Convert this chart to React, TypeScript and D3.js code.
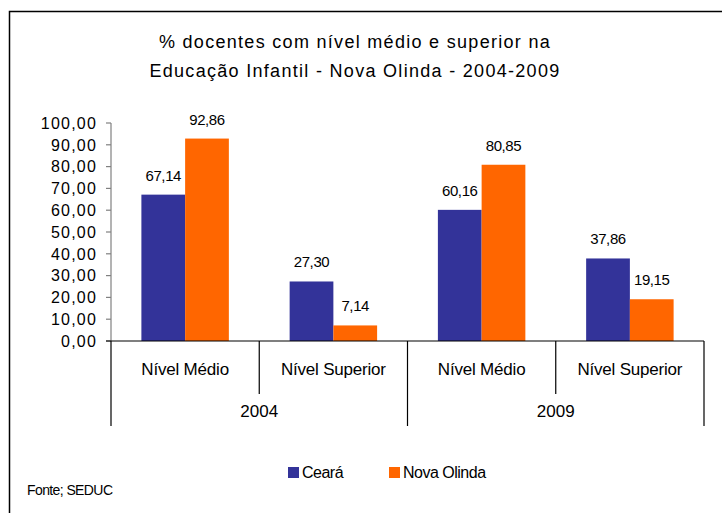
import React from "react";
import * as d3 from "d3";

const years = ["2004", "2009"];
const levels = ["Nível Médio", "Nível Superior"];
const series = ["Ceará", "Nova Olinda"];
const colors = ["#333399", "#FF6600"];
// order: 2004 Médio, 2004 Superior, 2009 Médio, 2009 Superior
const ceara = [67.14, 27.3, 60.16, 37.86];
const novaOlinda = [92.86, 7.14, 80.85, 19.15];
const yTicks = [0, 10, 20, 30, 40, 50, 60, 70, 80, 90, 100];
const titleLines = [
  "% docentes com nível médio e superior na",
  "Educação Infantil - Nova Olinda - 2004-2009",
];

const W = 722;
const H = 513;
const left = 111;
const right = 704;
const y0 = 341;
const y100 = 123;

const fmt = (v: number) => v.toFixed(2).replace(".", ",");

export default function App() {
  const cats = years.flatMap((yr) => levels.map((l) => `${yr}|${l}`));
  const x = d3.scaleBand<string>().domain(cats).range([left, right]).paddingInner(0).paddingOuter(0);
  const y = d3.scaleLinear().domain([0, 100]).range([y0, y100]);
  const bw = x.bandwidth();
  const inner = d3
    .scaleBand<string>()
    .domain(series)
    .range([bw * 0.205, bw * 0.795]);
  const yearScale = d3.scaleBand<string>().domain(years).range([left, right]);
  const font = "'Liberation Sans', Arial, sans-serif";
  const vals = [ceara, novaOlinda];

  return (
    <div style={{ position: "absolute", left: 0, top: 0 }}>
      <svg width={W} height={H} style={{ display: "block", background: "#fff" }} fontFamily={font}>
        <rect x={0} y={0} width={W} height={H} fill="#fff" />
        {/* frame */}
        <path d={`M9.5,${H} V11.5 H${W + 5}`} fill="none" stroke="#000" strokeWidth={1.5} />
        {/* title */}
        {titleLines.map((t, i) => (
          <text key={i} x={355} y={48 + i * 29} textAnchor="middle" fontSize={18} letterSpacing={1.3} fill="#000">
            {t}
          </text>
        ))}
        {/* bars */}
        {cats.map((c, ci) =>
          series.map((s, si) => {
            const v = vals[si][ci];
            const bx = (x(c) as number) + (inner(s) as number);
            return (
              <g key={c + s}>
                <rect x={bx} y={y(v)} width={inner.bandwidth()} height={y0 - y(v)} fill={colors[si]} />
                <text x={bx + inner.bandwidth() / 2} y={y(v) - 14} textAnchor="middle" fontSize={15} letterSpacing={-0.4} fill="#000">
                  {fmt(v)}
                </text>
              </g>
            );
          })
        )}
        {/* y axis */}
        <line x1={left} x2={left} y1={y100} y2={y0} stroke="#808080" strokeWidth={1.2} />
        {yTicks.map((t) => (
          <g key={t}>
            <line x1={106} x2={left} y1={y(t)} y2={y(t)} stroke="#808080" strokeWidth={1.2} />
            <text x={97} y={y(t)} dy="0.36em" textAnchor="end" fontSize={16} letterSpacing={1.2} fill="#000">
              {fmt(t)}
            </text>
          </g>
        ))}
        {/* x axis */}
        <line x1={106} x2={right} y1={y0} y2={y0} stroke="#000" strokeWidth={1.2} />
        {cats.map((c, ci) => {
          const xx = x(c) as number;
          const isYearStart = ci % levels.length === 0;
          return (
            <line key={"sep" + c} x1={xx} x2={xx} y1={y0} y2={isYearStart ? 426 : 394} stroke="#000" strokeWidth={1.2} />
          );
        })}
        <line x1={right} x2={right} y1={y0} y2={426} stroke="#000" strokeWidth={1.2} />
        {cats.map((c) => (
          <text key={"lab" + c} x={(x(c) as number) + bw / 2} y={369} dy="0.36em" textAnchor="middle" fontSize={17} letterSpacing={-0.2} fill="#000">
            {c.split("|")[1]}
          </text>
        ))}
        {years.map((yr) => (
          <text key={yr} x={(yearScale(yr) as number) + yearScale.bandwidth() / 2} y={411} dy="0.36em" textAnchor="middle" fontSize={17} fill="#000">
            {yr}
          </text>
        ))}
        {/* legend */}
        {series.map((s, i) => {
          const lx = 288 + i * 101;
          return (
            <g key={s}>
              <rect x={lx} y={467} width={11} height={11} fill={colors[i]} />
              <text x={lx + 14} y={478} fontSize={16} letterSpacing={-0.5} fill="#000">
                {s}
              </text>
            </g>
          );
        })}
        <text x={27} y={495} fontSize={14} letterSpacing={-0.6} fill="#000">
          Fonte; SEDUC
        </text>
      </svg>
    </div>
  );
}
